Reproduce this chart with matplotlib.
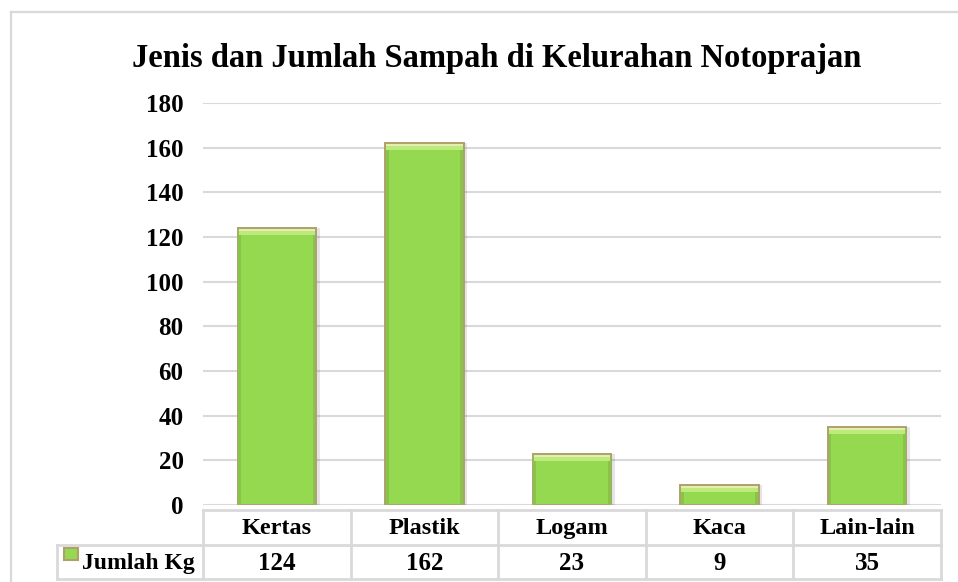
import matplotlib.pyplot as plt
from matplotlib.lines import Line2D
from matplotlib.patches import Rectangle
from matplotlib.transforms import blended_transform_factory

categories = ["Kertas", "Plastik", "Logam", "Kaca", "Lain-lain"]
jumlah_kg = [124, 162, 23, 9, 35]
series_name = "Jumlah Kg"
title = "Jenis dan Jumlah Sampah di Kelurahan Notoprajan"
y_ticks = [0, 20, 40, 60, 80, 100, 120, 140, 160, 180]

W, H = 958, 582
plt.rcParams["font.family"] = ["Liberation Serif", "DejaVu Serif"]
plt.rcParams["font.weight"] = "bold"

GRID = "#D9D9D9"
GREEN = "#95D951"
LIGHT = "#BCEB7C"
TOPLINE = "#E4EEB0"
SIDE = "#88C44A"
EDGE = "#AFA06C"
FS = 18


def fx(px):
    return px / W


def fy(py):
    return 1 - py / H


fig = plt.figure(figsize=(W / 100, H / 100), dpi=100)

# outer chart frame (only left/top visible in the source)
fig.add_artist(Line2D([fx(11), fx(11)], [fy(12), fy(H + 5)], color=GRID, lw=1.6))
fig.add_artist(Line2D([fx(11), fx(W + 5)], [fy(12), fy(12)], color=GRID, lw=1.6))

x0, x1, ytop, ybot = 203, 941, 103, 505
ax = fig.add_axes([fx(x0), fy(ybot), fx(x1 - x0), (ybot - ytop) / H])
ax.set_xlim(-0.5, len(categories) - 0.5)
ax.set_ylim(0, 180)
ax.set_yticks(y_ticks)
ax.set_yticklabels([str(t) for t in y_ticks], fontsize=FS, fontweight="bold")
ax.tick_params(axis="y", length=0, pad=14)
ax.set_xticks([])
for s in ax.spines.values():
    s.set_visible(False)
ax.grid(axis="y", color=GRID, lw=1.5)
ax.set_axisbelow(True)

xs = list(range(len(categories)))
bw = 0.53
# soft shadow
ax.bar([x + 0.025 for x in xs], jumlah_kg, width=bw, color="#000000", alpha=0.10, zorder=2)
# body
ax.bar(xs, jumlah_kg, width=bw, color=GREEN, edgecolor=EDGE, lw=1.4, zorder=3)
# darker side bevels
side = 0.018
for off in (-(bw / 2 - side / 2 - 0.004), bw / 2 - side / 2 - 0.004):
    ax.bar([x + off for x in xs], [v - 0.6 for v in jumlah_kg], width=side,
           color=SIDE, lw=0, zorder=4)
# light bevel along the top
cap = 2.6
ax.bar(xs, [cap] * len(jumlah_kg), bottom=[v - cap - 0.5 for v in jumlah_kg],
       width=bw - 0.012, color=LIGHT, lw=0, zorder=5)
ax.bar(xs, [0.9] * len(jumlah_kg), bottom=[v - 1.3 for v in jumlah_kg],
       width=bw - 0.012, color=TOPLINE, lw=0, zorder=6)

fig.text(fx(497), fy(58), title, ha="center", va="center", fontsize=23.5, fontweight="bold")

# data table
t_top, t_mid, t_bot, lab_left = 510, 545, 579, 57
tc = dict(color=GRID, lw=2)
fig.add_artist(Line2D([fx(x0), fx(x1)], [fy(t_top), fy(t_top)], **tc))
fig.add_artist(Line2D([fx(lab_left), fx(x1)], [fy(t_mid), fy(t_mid)], **tc))
fig.add_artist(Line2D([fx(lab_left), fx(x1)], [fy(t_bot), fy(t_bot)], **tc))
fig.add_artist(Line2D([fx(lab_left), fx(lab_left)], [fy(t_mid), fy(t_bot)], **tc))
col_w = (x1 - x0) / len(categories)
for i in range(len(categories) + 1):
    xx = x0 + i * col_w
    fig.add_artist(Line2D([fx(xx), fx(xx)], [fy(t_top), fy(t_bot)], **tc))

tr = blended_transform_factory(ax.transData, fig.transFigure)
for i, (c, v) in enumerate(zip(categories, jumlah_kg)):
    fig.text(i, fy((t_top + t_mid) / 2 + 1), c, transform=tr, ha="center", va="center",
             fontsize=FS - 0.5, fontweight="bold")
    fig.text(i, fy((t_mid + t_bot) / 2 + 1), str(v), transform=tr, ha="center", va="center",
             fontsize=FS, fontweight="bold")

fig.add_artist(Rectangle((fx(64), fy(560)), fx(14), 12 / H, facecolor=GREEN,
                         edgecolor=EDGE, lw=1.5))
fig.text(fx(82), fy((t_mid + t_bot) / 2 + 1), series_name, ha="left", va="center",
         fontsize=17, fontweight="bold")

fig.savefig("out.png", dpi=100)
